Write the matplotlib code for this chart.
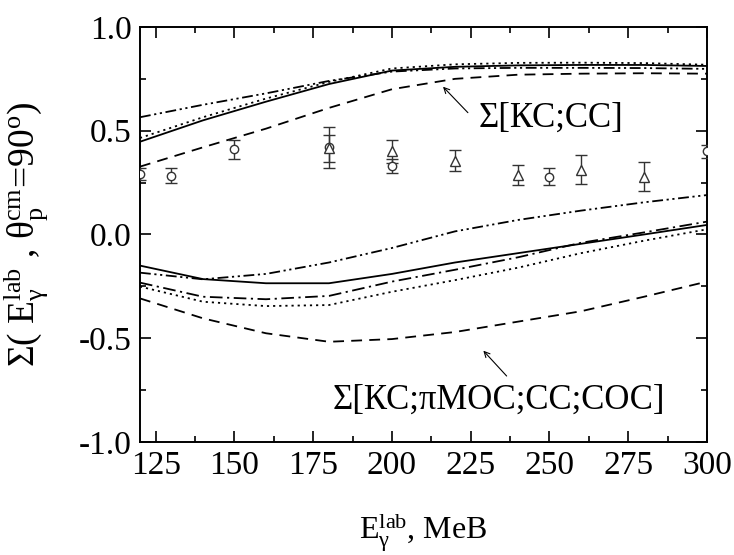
import matplotlib.pyplot as plt
from matplotlib.ticker import MultipleLocator

plt.rcParams['font.family'] = ['Liberation Serif', 'DejaVu Serif']
plt.rcParams['mathtext.fontset'] = 'custom'
plt.rcParams['mathtext.rm'] = 'Liberation Serif'
plt.rcParams['mathtext.it'] = 'Liberation Serif:italic'

# energies of the calculated curves, MeV
e_calc = [120, 140, 160, 180, 200, 220, 240, 260, 280, 300]

# upper group, Sigma[KC;CC]
up_solid = [0.447, 0.55, 0.64, 0.725, 0.79, 0.808, 0.815, 0.817, 0.817, 0.812]
up_dot = [0.465, 0.565, 0.655, 0.735, 0.80, 0.82, 0.827, 0.828, 0.826, 0.818]
up_dashdotdot = [0.565, 0.625, 0.68, 0.74, 0.785, 0.80, 0.803, 0.803, 0.802, 0.798]
up_dash = [0.327, 0.42, 0.51, 0.61, 0.70, 0.75, 0.77, 0.775, 0.777, 0.775]

# lower group, Sigma[KC;piMOC;CC;COC]
lo_solid = [-0.15, -0.215, -0.235, -0.235, -0.19, -0.135, -0.09, -0.045, 0.0, 0.046]
lo_dashdotdot = [-0.184, -0.216, -0.19, -0.135, -0.065, 0.015, 0.07, 0.115, 0.155, 0.19]
lo_dashdot = [-0.232, -0.30, -0.312, -0.296, -0.227, -0.17, -0.11, -0.04, 0.01, 0.062]
lo_dot = [-0.251, -0.324, -0.345, -0.340, -0.276, -0.22, -0.16, -0.09, -0.03, 0.025]
lo_dash = [-0.308, -0.404, -0.476, -0.517, -0.504, -0.47, -0.42, -0.37, -0.30, -0.227]

# experiment: circles
e_circ = [120, 130, 150, 180, 200, 250, 300]
s_circ = [0.292, 0.284, 0.41, 0.42, 0.332, 0.279, 0.40]
err_circ = [0.03, 0.036, 0.047, 0.10, 0.034, 0.042, 0.03]

# experiment: triangles
e_tri = [180, 200, 220, 240, 260, 280]
s_tri = [0.415, 0.40, 0.356, 0.287, 0.311, 0.279]
err_tri = [0.065, 0.055, 0.05, 0.05, 0.07, 0.068]

fig = plt.figure(figsize=(7.34, 5.55), dpi=100)
ax = fig.add_axes([0.1907, 0.2036, 0.7725, 0.7478])

lw = 1.3
dots = (0, (1.2, 2.2))
dashes = (0, (6, 4))
dashdotdot = (0, (6, 2, 1.2, 2, 1.2, 2))
dashdot = (0, (7, 2.5, 1.2, 2.5))

ax.plot(e_calc, up_solid, color='black', lw=lw, ls='-')
ax.plot(e_calc, up_dot, color='black', lw=lw, ls=dots)
ax.plot(e_calc, up_dashdotdot, color='black', lw=lw, ls=dashdotdot)
ax.plot(e_calc, up_dash, color='black', lw=lw, ls=dashes)

ax.plot(e_calc, lo_solid, color='black', lw=lw, ls='-')
ax.plot(e_calc, lo_dashdotdot, color='black', lw=lw, ls=dashdotdot)
ax.plot(e_calc, lo_dashdot, color='black', lw=lw, ls=dashdot)
ax.plot(e_calc, lo_dot, color='black', lw=lw, ls=dots)
ax.plot(e_calc, lo_dash, color='black', lw=lw, ls=dashes)

ax.errorbar(e_circ, s_circ, yerr=err_circ, fmt='o', mfc='white', mec='#333333',
            ms=6, ecolor='#333333', elinewidth=1.0, capsize=4.5, capthick=1.0,
            zorder=3)
ax.errorbar(e_tri, s_tri, yerr=err_tri, fmt='^', mfc='white', mec='#333333',
            ms=6.5, ecolor='#333333', elinewidth=1.0, capsize=4.5, capthick=1.0,
            zorder=3)

# подписи и стрелки
ax.text(227.5, 0.56, 'Σ[КС;СС]', fontsize=25, ha='left', va='center')
ax.annotate('', xy=(216.2, 0.712), xytext=(224.1, 0.587),
            arrowprops=dict(arrowstyle='->', color='black', lw=0.8,
                            shrinkA=0, shrinkB=0))
ax.text(181.0, -0.80, 'Σ[КС;πМОС;СС;СОС]', fontsize=25, ha='left', va='center')
ax.annotate('', xy=(229.0, -0.56), xytext=(236.4, -0.682),
            arrowprops=dict(arrowstyle='->', color='black', lw=0.8,
                            shrinkA=0, shrinkB=0))

ax.set_xlim(120, 300)
ax.set_ylim(-1.0, 1.0)
ax.set_xticks([125, 150, 175, 200, 225, 250, 275, 300])
ax.xaxis.set_minor_locator(MultipleLocator(12.5))
ax.yaxis.set_major_locator(MultipleLocator(0.5))
ax.yaxis.set_minor_locator(MultipleLocator(0.25))
ax.yaxis.set_major_formatter(plt.FuncFormatter(lambda v, p: f'{v:.1f}'))
ax.tick_params(which='both', direction='in', top=True, right=True, labelsize=24,
               width=1.2)
ax.tick_params(which='major', length=8, pad=6)
ax.tick_params(which='minor', length=4.5)
for s in ax.spines.values():
    s.set_linewidth(1.4)

ax.set_xlabel(r'E$_{\mathrm{γ}}^{\mathrm{lab}}$, МеВ', fontsize=23)
ax.set_ylabel(r'Σ( E$_{\mathrm{γ}}^{\mathrm{lab}}$ , θ$_{\mathrm{p}}^{\mathrm{cm}}$=90$^{\mathrm{o}}$)',
              fontsize=27)
ax.xaxis.set_label_coords(0.5, -0.165)
ax.yaxis.set_label_coords(-0.158, 0.5)

fig.savefig('out.png', dpi=100)
